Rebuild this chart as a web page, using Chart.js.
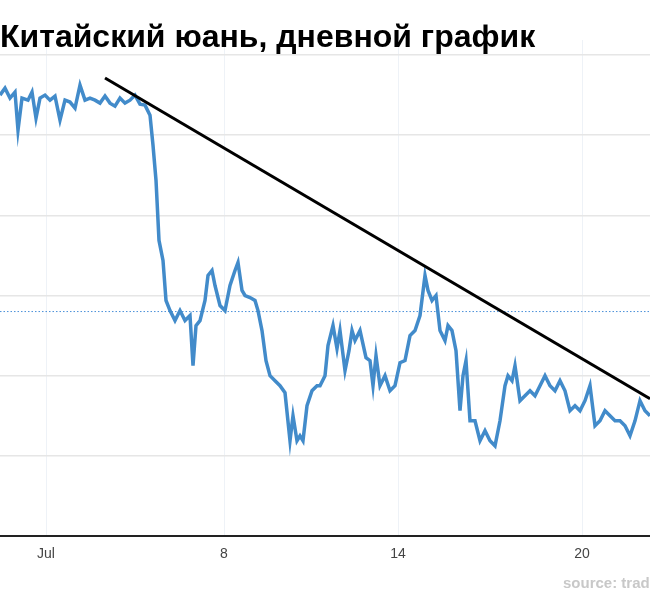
<!DOCTYPE html>
<html><head><meta charset="utf-8">
<script src="https://cdn.jsdelivr.net/npm/chart.js@4"></script>
<style>html,body{margin:0;padding:0;overflow:hidden;background:#fff}#w{width:650px;height:600px;position:relative}</style>
</head><body><div id="w"><canvas id="c" width="650" height="600"></canvas></div>
<script>
const titleText = 'Китайский юань, дневной график';
const sourceText = 'source: tradingeconomics.com';
const tickPos = [46, 224, 398, 582];
const tickLabels = ['Jul', '8', '14', '20'];
const gridValues = [7.00, 6.99, 6.98, 6.97, 6.96, 6.95, 6.94];
const times = [0,5,10,15,18,22,28,32,36,40,45,50,55,60,65,70,75,80,85,90,95,100,105,110,115,120,125,130,135,140,145,150,153,156,159,163,166,170,175,180,185,190,193,196,200,205,208,212,215,220,225,230,235,238,242,245,250,255,258,262,266,270,275,280,285,290,293,297,300,303,307,312,317,320,325,328,333,337,340,345,349,352,355,360,366,370,373,376,380,385,390,395,400,405,410,415,420,425,428,432,436,440,445,448,452,456,460,463,466,470,475,480,485,490,495,500,505,508,512,515,520,525,530,535,540,545,550,555,560,565,570,575,580,585,590,595,600,605,610,615,620,625,630,635,640,645,650];
const rawPx = [95,88,98,92,130,98,100,92,118,98,95,100,96,120,100,102,108,85,100,98,100,103,96,103,106,98,103,100,95,104,105,115,145,180,240,260,300,310,320,310,320,315,365,325,320,300,275,270,285,305,310,285,270,262,290,295,297,300,310,330,360,375,380,385,392,440,415,440,435,440,405,390,385,385,375,345,325,348,330,370,350,330,340,330,357,360,385,355,385,375,390,385,362,360,335,330,315,275,290,300,295,330,340,325,330,350,410,375,360,420,420,440,430,440,445,420,385,375,380,365,400,395,390,395,385,375,385,390,380,390,410,405,410,400,385,425,420,410,415,420,420,425,435,420,400,410,415];
// readings converted to rate values (0.01 per grid step)
const rates = rawPx.map(p => +(7.00 - (p - 55) / 8000).toFixed(5));
const trendTimes = [105, 650];
const trendRates = [7.00 - (78 - 55) / 8000, 7.00 - (398 - 55) / 8000];
const lastRate = 6.968;

const overlay = {
  id: 'overlay',
  afterDraw(ch) {
    const c = ch.ctx; c.save();
    c.fillStyle = '#000'; c.font = 'bold 32px "Liberation Sans", Arial, sans-serif';
    c.textBaseline = 'alphabetic'; c.fillText(titleText, 0, 47);
    c.fillStyle = '#c8c8c8'; c.font = 'bold 15px "Liberation Sans", Arial, sans-serif';
    c.fillText(sourceText, 563, 588);
    c.restore();
  },
  beforeDatasetsDraw(ch) {
    const c = ch.ctx, y = ch.scales.y.getPixelForValue(lastRate);
    c.save(); c.strokeStyle = '#4a90d9'; c.lineWidth = 1; c.setLineDash([1.5, 2]);
    c.beginPath(); c.moveTo(ch.chartArea.left, y); c.lineTo(ch.chartArea.right, y); c.stroke(); c.restore();
  }
};

new Chart(document.getElementById('c'), {
  type: 'line',
  data: { datasets: [
    { data: times.map((t, i) => ({x: t, y: rates[i]})), borderColor: '#428bca', borderWidth: 3.5, pointRadius: 0, tension: 0, order: 2 },
    { data: trendTimes.map((t, i) => ({x: t, y: trendRates[i]})), borderColor: '#000', borderWidth: 3, pointRadius: 0, order: 1 }
  ]},
  options: {
    responsive: false, animation: false,
    layout: { padding: { top: 40, left: 0, right: 0, bottom: 0 } },
    plugins: { legend: { display: false }, tooltip: { enabled: false } },
    scales: {
      x: { type: 'linear', min: 0, max: 650,
        afterBuildTicks: s => { s.ticks = tickPos.map(v => ({value: v})); },
        afterFit: s => { s.height = 64; },
        ticks: { callback: (v, i) => tickLabels[i], color: '#444', font: { size: 14, family: 'Liberation Sans' }, padding: 10, maxRotation: 0, autoSkip: false },
        grid: { color: '#eef2f7', lineWidth: 1, drawTicks: false },
        border: { color: '#222', width: 2 } },
      y: { min: 6.94, max: 7.00 + 15 / 8000,
        afterBuildTicks: s => { s.ticks = gridValues.map(v => ({value: v})); },
        afterFit: s => { s.width = 0; },
        ticks: { display: false },
        grid: { color: '#e6e6e6', lineWidth: 1.5, drawTicks: false },
        border: { display: false } }
    }
  },
  plugins: [overlay]
});
</script></body></html>
